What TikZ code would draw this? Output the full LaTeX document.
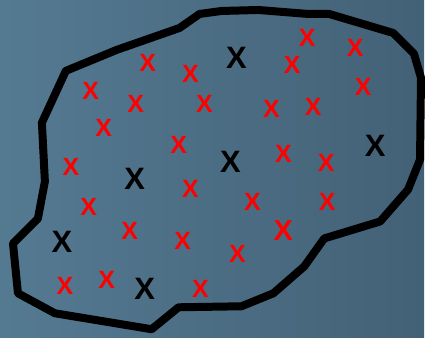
\documentclass[tikz,border=0pt]{standalone}
\usepackage{fontspec}
\setmainfont{Liberation Sans}
\tikzset{
  redmark/.style={text=red, font=\bfseries\fontsize{25}{25}\selectfont, inner sep=0pt},
  blackmark/.style={text=black, font=\bfseries\fontsize{31}{31}\selectfont, inner sep=0pt},
  border/.style={line width=8pt, line join=round}
}
\definecolor{bgleft}{RGB}{84,122,146}
\definecolor{bgright}{RGB}{67,97,118}

\begin{document}
\begin{tikzpicture}[x=1pt, y=-1pt]
% Background
\shade[left color=bgleft, right color=bgright] (0,0) rectangle (425,338);
% Outline
\draw[border] (66,71) -- (117,50) -- (180,28) -- (200,14) -- (222,11) -- (259,10)
  -- (309,14) -- (330,14) -- (394,33) -- (415,54) -- (422,78) -- (421,160)
  -- (409,190) -- (381,222) -- (325,239) -- (305,267) -- (274,294) -- (242,307)
  -- (179,308) -- (152,330) -- (55,314) -- (18,294) -- (13,244) -- (38,219)
  -- (45,182) -- (42,123) -- cycle;
% Red marks
\foreach \px/\py [count=\i] in {
  148/63, 191/74, 91/91, 136/104, 205/104, 104/128, 179/145, 71/167,
  191/189, 89/207, 130/231, 183/241, 238/255, 65/287, 107/281, 201/290,
  253/202, 328/202, 327/163, 284/154, 272/109, 314/107, 364/87, 356/48,
  308/38, 293/65
}{
  \node[redmark] (r\i) at (\px,\py) {X};
}
\node[redmark, font=\bfseries\fontsize{29}{29}\selectfont] (rbig) at (284,231) {X};
% Black marks
\foreach \px/\py [count=\i] in {237/58, 231/162, 135/179, 62/242, 145/290, 376/146}{
  \node[blackmark] (b\i) at (\px,\py) {X};
}
\end{tikzpicture}
\end{document}
